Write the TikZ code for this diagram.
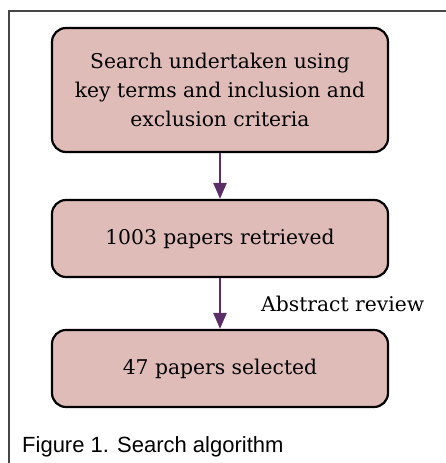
\documentclass[tikz,border=0pt]{standalone}
\usepackage{fontspec}
\setmainfont{DejaVu Serif}
\newfontfamily\capfont{Liberation Sans}
\usetikzlibrary{arrows.meta,positioning}

\definecolor{boxfill}{RGB}{224,188,185}
\definecolor{arrowpurple}{RGB}{92,46,104}
\definecolor{framegray}{RGB}{70,70,70}

\begin{document}
\begin{tikzpicture}[x=1pt,y=-1pt]
\tikzstyle{stepbox}=[draw=black, line width=2.2pt, fill=boxfill, rounded corners=14pt,
  minimum width=336pt, align=center, font=\fontsize{20.3}{29}\selectfont]
\tikzstyle{flow}=[draw=arrowpurple, line width=2.4pt, -{Triangle[length=16pt,width=13pt]}]
\useasboundingbox (0,0) rectangle (446,463);
\draw [framegray, line width=1.3pt] (446,11) -- (9,11) -- (9,463);
\node [stepbox, minimum height=124pt] (search) at (220,90)
  {Search undertaken using\\key terms and inclusion and\\exclusion criteria};
\node [stepbox, minimum height=77pt] (retrieved) at (220,238.5) {1003 papers retrieved};
\node [stepbox, minimum height=77pt] (selected) at (220,368.5) {47 papers selected};
\draw [flow] (search) -- (retrieved);
\draw [flow] (retrieved) -- node [right=40pt, font=\fontsize{20.3}{29}\selectfont, inner sep=0pt] {Abstract review} (selected);
\node [anchor=west, inner sep=0pt, font=\capfont\fontsize{22}{26}\selectfont] (caption) at (22,447) {Figure 1. Search algorithm};
\end{tikzpicture}
\end{document}
